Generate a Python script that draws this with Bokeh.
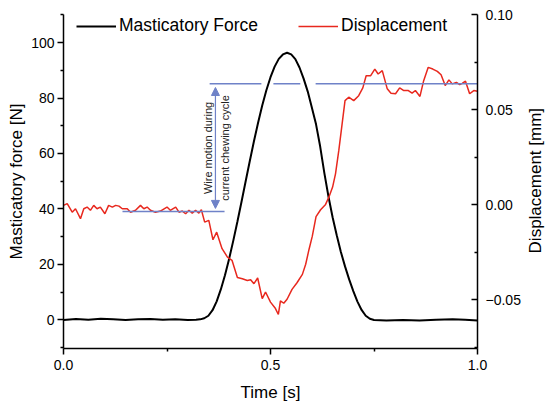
import math
from bokeh.plotting import figure
from bokeh.layouts import row
from bokeh.models import (Range1d, LinearAxis, FixedTicker, CustomJSTickFormatter,
                          Legend, LegendItem, Arrow, NormalHead)
from bokeh.core.properties import value
from bokeh.embed import file_html
from bokeh.resources import INLINE

# ---------------- data ----------------
time_force = [0.00, 0.03, 0.06, 0.09, 0.12, 0.15, 0.18, 0.21, 0.24, 0.27, 0.30, 0.32,
              0.33, 0.34, 0.35, 0.36, 0.37, 0.38, 0.39, 0.40, 0.41, 0.42, 0.43, 0.44,
              0.45, 0.46, 0.47, 0.48, 0.49, 0.50, 0.51, 0.52, 0.53, 0.54, 0.55, 0.56,
              0.57, 0.58, 0.59, 0.60, 0.61, 0.62, 0.63, 0.64, 0.65, 0.66, 0.67, 0.68,
              0.69, 0.70, 0.71, 0.72, 0.73, 0.74, 0.75, 0.78, 0.82, 0.86, 0.90, 0.94,
              0.97, 1.00]
force = [0.0, 0.3, 0.1, 0.4, 0.2, 0.0, 0.2, 0.3, 0.1, 0.2, 0.0, 0.1,
         0.2, 0.6, 1.5, 3.5, 6.7, 11.0, 16.1, 22.0, 28.5, 35.4, 42.6, 50.0,
         57.3, 64.4, 71.1, 77.3, 82.8, 87.5, 91.3, 94.1, 95.7, 96.3, 95.7, 94.0,
         91.0, 87.0, 82.3, 76.5, 70.5, 62.5, 53.0, 44.5, 37.0, 30.5, 24.5, 19.3,
         14.6, 10.4, 6.6, 3.6, 1.5, 0.4, 0.0, -0.2, 0.0, -0.2, 0.1, 0.2,
         0.1, -0.2]

time_disp = [0.000, 0.009, 0.021, 0.029, 0.041, 0.049, 0.057, 0.065, 0.073, 0.081,
             0.089, 0.100, 0.109, 0.118, 0.126, 0.134, 0.142, 0.154, 0.162, 0.174,
             0.186, 0.194, 0.202, 0.210, 0.222, 0.234, 0.250, 0.258, 0.271, 0.279,
             0.287, 0.295, 0.303, 0.311, 0.319, 0.327, 0.333, 0.341, 0.351, 0.361,
             0.370, 0.383, 0.396, 0.407, 0.420, 0.432, 0.444, 0.452, 0.460, 0.469,
             0.480, 0.488, 0.500, 0.512, 0.519, 0.524, 0.532, 0.540, 0.552, 0.564,
             0.577, 0.585, 0.593, 0.601, 0.610, 0.621, 0.633, 0.641, 0.650, 0.657,
             0.665, 0.673, 0.680, 0.689, 0.701, 0.713, 0.723, 0.731, 0.742, 0.752,
             0.760, 0.770, 0.782, 0.791, 0.802, 0.812, 0.822, 0.833, 0.842, 0.850,
             0.861, 0.870, 0.881, 0.892, 0.903, 0.912, 0.922, 0.931, 0.939, 0.949,
             0.957, 0.963, 0.971, 0.981, 0.991, 1.000]
displacement = [-0.0004, 0.0005, -0.0040, -0.0022, -0.0074, -0.0022, -0.0013, -0.0030, -0.0004, -0.0022,
                -0.0013, -0.0048, -0.0004, -0.0013, -0.0004, -0.0008, -0.0022, -0.0022, -0.0040, -0.0030,
                -0.0004, -0.0022, -0.0013, -0.0030, -0.0040, -0.0034, -0.0013, -0.0030, -0.0013, -0.0040,
                -0.0034, -0.0048, -0.0030, -0.0045, -0.0030, -0.0045, -0.0027, -0.0092, -0.0083, -0.0185,
                -0.0145, -0.0232, -0.0276, -0.0293, -0.0384, -0.0390, -0.0399, -0.0395, -0.0416, -0.0386,
                -0.0495, -0.0460, -0.0513, -0.0547, -0.0578, -0.0507, -0.0519, -0.0498, -0.0446, -0.0411,
                -0.0367, -0.0314, -0.0236, -0.0166, -0.0063, -0.0027, 0.0001, 0.0039, 0.0092, 0.0162,
                0.0285, 0.0425, 0.0547, 0.0565, 0.0547, 0.0573, 0.0614, 0.0678, 0.0678, 0.0713,
                0.0687, 0.0705, 0.0609, 0.0586, 0.0583, 0.0614, 0.0600, 0.0600, 0.0586, 0.0600,
                0.0569, 0.0652, 0.0722, 0.0713, 0.0701, 0.0683, 0.0626, 0.0656, 0.0635, 0.0643,
                0.0631, 0.0638, 0.0649, 0.0583, 0.0600, 0.0596]

# reference levels (displacement axis) and annotation
upper_level = 0.0636
upper_t_start = [0.353, 0.507, 0.609]
upper_t_end = [0.478, 0.572, 1.000]
lower_level = -0.0036
lower_t_start = [0.1425]
lower_t_end = [0.389]
arrow_t = 0.367
arrow_top = 0.0616
arrow_bottom = -0.0020
note_lines = ["Wire motion during", "current chewing cycle"]
note_t = [0.350, 0.390]
note_level = 0.0298

x_ticks = [0.0, 0.5, 1.0]
x_minor = [0.25, 0.75]
force_ticks = [0, 20, 40, 60, 80, 100]
force_minor = [-10, 10, 30, 50, 70, 90, 110]
disp_ticks = [-0.05, 0.0, 0.05, 0.10]
disp_minor = [-0.075, -0.025, 0.025, 0.075]
right_axis_title = "Displacement [mm]"

FONT = "Liberation Sans"
BLUE = "#6f82c8"
RED = "#e8281e"
FIG_H = 406

p = figure(frame_width=414, frame_height=334,
           min_border_left=63, min_border_right=45, min_border_top=14, min_border_bottom=58,
           x_range=Range1d(0, 1), y_range=Range1d(-10.3, 110.1),
           output_backend="svg", toolbar_location=None)
p.extra_y_ranges = {"disp": Range1d(-0.0757, 0.10)}
p.outline_line_color = None
p.xgrid.visible = False
p.ygrid.visible = False
p.background_fill_color = "white"
p.border_fill_color = "white"

# lines
r_force = p.line(time_force, force, line_color="black", line_width=2)
r_disp = p.line(time_disp, displacement, line_color=RED, line_width=1.5, y_range_name="disp")

# blue annotations
p.segment(x0=upper_t_start, x1=upper_t_end, y0=[upper_level] * len(upper_t_start),
          y1=[upper_level] * len(upper_t_start), line_color=BLUE, line_width=1.5, y_range_name="disp")
p.segment(x0=lower_t_start, x1=lower_t_end, y0=[lower_level] * len(lower_t_start),
          y1=[lower_level] * len(lower_t_start), line_color=BLUE, line_width=1.5, y_range_name="disp")
arr = Arrow(x_start=arrow_t, x_end=arrow_t, y_start=arrow_bottom, y_end=arrow_top,
            start=NormalHead(size=8, fill_color=BLUE, line_color=BLUE, line_width=1),
            end=NormalHead(size=8, fill_color=BLUE, line_color=BLUE, line_width=1),
            line_color=BLUE, line_width=1.2, y_range_name="disp")
p.add_layout(arr)
p.text(x=note_t, y=[note_level] * len(note_t), text=note_lines, angle=math.pi / 2,
       text_font=value(FONT), text_font_size="11px", text_color="#222222",
       text_align="center", text_baseline="middle", y_range_name="disp")

# axes styling
def style_axis(ax):
    ax.axis_line_width = 1.5
    ax.major_tick_line_width = 1.5
    ax.minor_tick_line_width = 1.5
    ax.axis_line_color = "black"
    ax.major_tick_line_color = "black"
    ax.minor_tick_line_color = "black"
    ax.major_label_text_font = FONT
    ax.major_label_text_font_size = "14px"
    ax.major_label_text_color = "black"
    ax.axis_label_text_font = FONT
    ax.axis_label_text_font_size = "17px"
    ax.axis_label_text_font_style = "normal"
    ax.axis_label_text_color = "black"

xa = p.xaxis[0]
style_axis(xa)
xa.ticker = FixedTicker(ticks=x_ticks, minor_ticks=x_minor)
xa.formatter = CustomJSTickFormatter(code="return tick.toFixed(1);")
xa.major_tick_out = 6
xa.major_tick_in = 0
xa.minor_tick_out = 3
xa.minor_tick_in = 0
xa.major_label_standoff = 5
xa.axis_label = "Time [s]"
xa.axis_label_standoff = 10

ya = p.yaxis[0]
style_axis(ya)
ya.ticker = FixedTicker(ticks=force_ticks, minor_ticks=force_minor)
ya.major_tick_out = 6
ya.major_tick_in = 0
ya.minor_tick_out = 3
ya.minor_tick_in = 0
ya.major_label_standoff = 3
ya.axis_label = "Masticatory force [N]"
ya.axis_label_standoff = 2

ra = LinearAxis(y_range_name="disp",
                ticker=FixedTicker(ticks=disp_ticks, minor_ticks=disp_minor),
                formatter=CustomJSTickFormatter(
                    code="return (tick < -1e-9 ? '\u2212' : '') + Math.abs(tick).toFixed(2);"))
style_axis(ra)
ra.major_tick_out = 0
ra.major_tick_in = 6
ra.minor_tick_out = 0
ra.minor_tick_in = 3
ra.major_label_standoff = 8
p.add_layout(ra, "right")

legend = Legend(items=[LegendItem(label="Masticatory Force", renderers=[r_force]),
                       LegendItem(label="Displacement", renderers=[r_disp])],
                orientation="horizontal", location=(13, 312),
                glyph_width=40, glyph_height=20, label_height=20, label_standoff=3,
                spacing=40, padding=0, margin=0,
                border_line_color=None, background_fill_alpha=0,
                label_text_font=FONT, label_text_font_size="17.5px", label_text_color="black")
p.add_layout(legend)

# narrow strip to the right holding the right-axis title (reads bottom-to-top)
strip_w = 26
q = figure(width=strip_w, height=FIG_H, x_range=Range1d(0, strip_w), y_range=Range1d(0, FIG_H),
           min_border=0, x_axis_type=None, y_axis_type=None,
           output_backend="svg", toolbar_location=None)
q.outline_line_color = None
q.grid.visible = False
q.background_fill_color = "white"
q.border_fill_color = "white"
q.text(x=[12.0], y=[FIG_H - 202], text=[right_axis_title], angle=math.pi / 2,
       text_font=value(FONT), text_font_size="17px", text_color="black",
       text_align="center", text_baseline="middle")

layout = row(p, q, spacing=0)
open("out.html", "w").write(file_html(layout, INLINE))
